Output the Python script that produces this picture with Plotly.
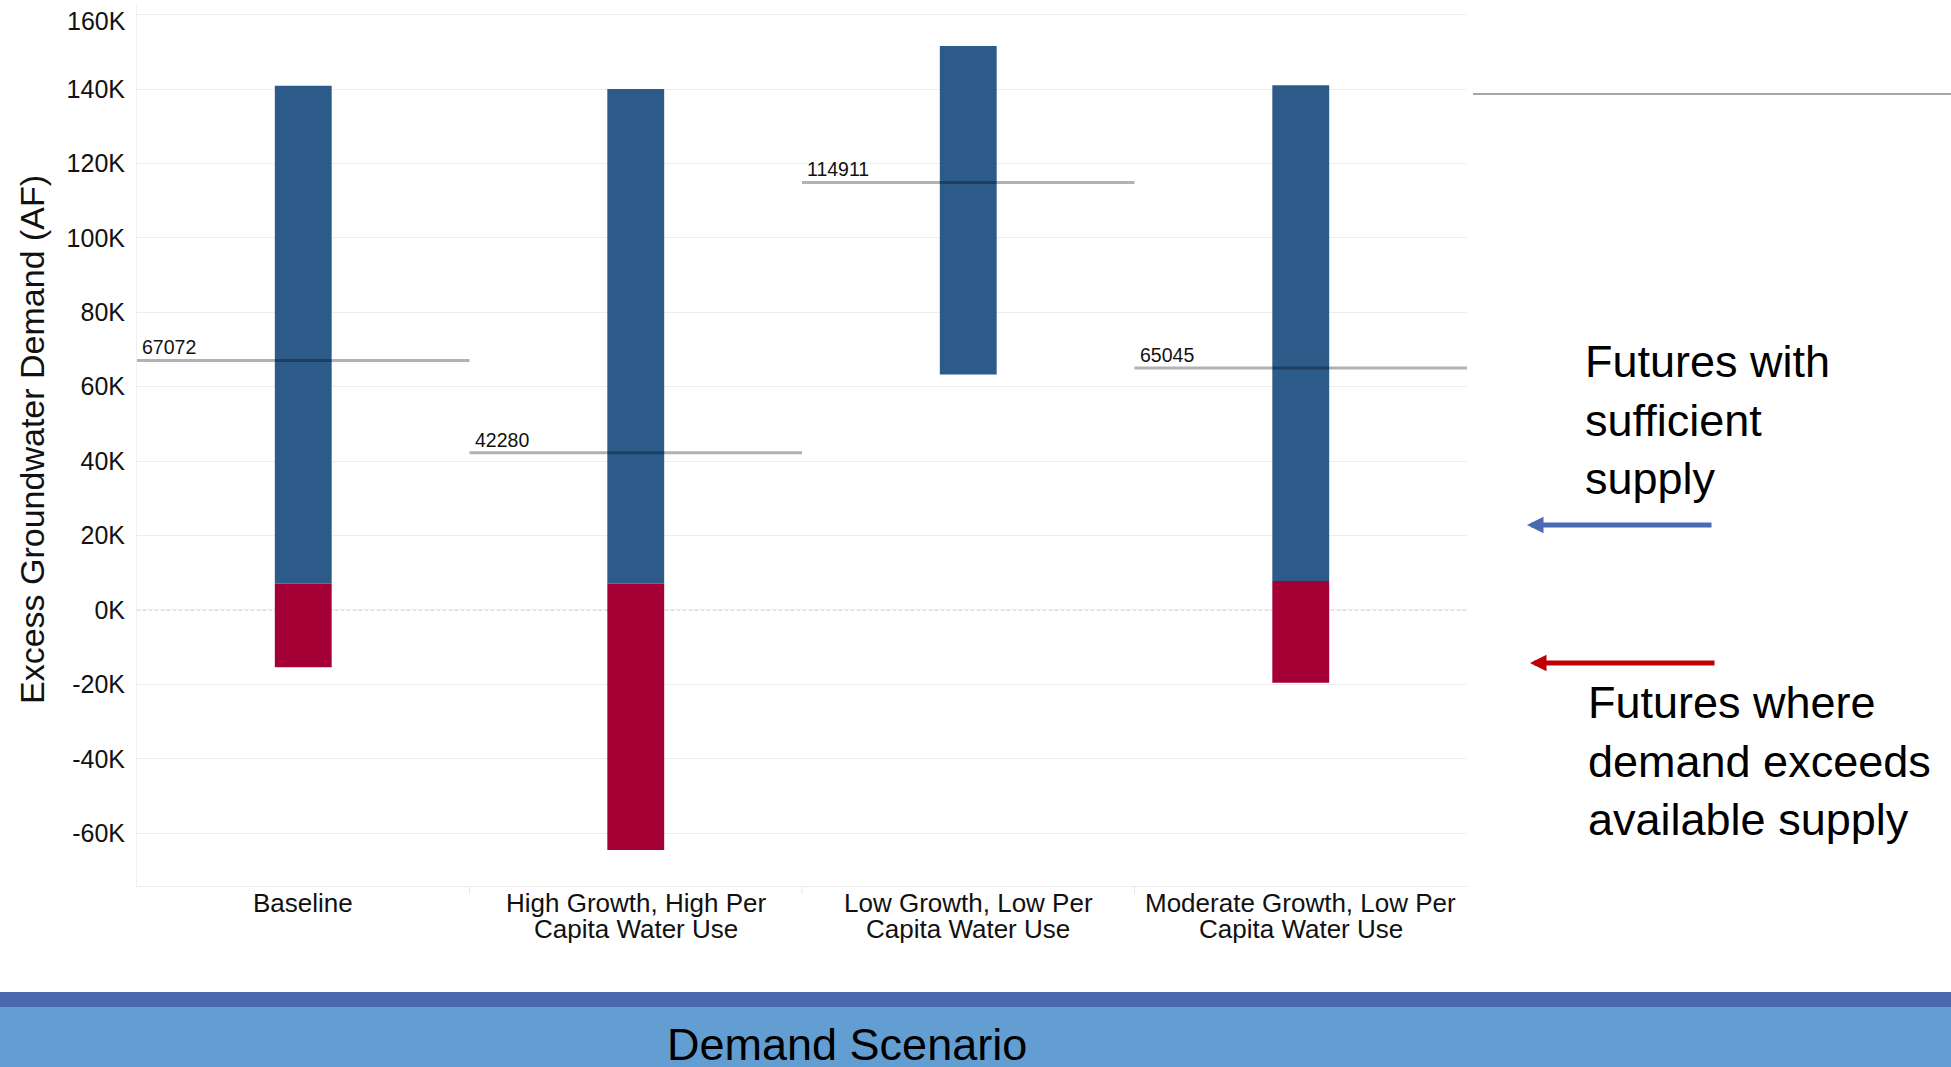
import plotly.graph_objects as go

# ---------------- data ----------------
scenarios = [
    "Baseline",
    "High Growth, High Per<br>Capita Water Use",
    "Low Growth, Low Per<br>Capita Water Use",
    "Moderate Growth, Low Per<br>Capita Water Use",
]
sufficient_low = [7100, 7100, 63300, 7800]
sufficient_high = [140900, 140000, 151600, 141000]
shortfall_low = [-15400, -64500, None, -19600]
shortfall_high = [7100, 7100, None, 7800]
reference_values = [67072, 42280, 114911, 65045]

y_tick_values = [-60000, -40000, -20000, 0, 20000, 40000, 60000, 80000,
                 100000, 120000, 140000, 160000]
y_tick_labels = ["-60K", "-40K", "-20K", "0K", "20K", "40K", "60K", "80K",
                 "100K", "120K", "140K", "160K"]

y_title = "Excess Groundwater Demand (AF)"
x_title = "Demand Scenario"
note_sufficient = "Futures with<br>sufficient<br>supply"
note_shortfall = "Futures where<br>demand exceeds<br>available supply"

# ---------------- styling ----------------
FONT = "Liberation Sans, Arial, Helvetica, sans-serif"
BLUE = "#2C5A89"
RED = "#A50036"

W, H = 1951, 1067
L, R, T, B = 137, 484, 5, 181
plot_w = W - L - R
plot_h = H - T - B


def px_x(px):
    return (px - L) / plot_w


def px_y(py):
    return (H - B - py) / plot_h


xs = list(range(len(scenarios)))

fig = go.Figure()

fig.add_trace(go.Bar(
    x=xs,
    y=[h - l for h, l in zip(sufficient_high, sufficient_low)],
    base=sufficient_low,
    width=0.171,
    marker=dict(color=BLUE, line=dict(width=0)),
    hoverinfo="skip",
))

red_len = [None if (h is None or l is None) else h - l
           for h, l in zip(shortfall_high, shortfall_low)]
fig.add_trace(go.Bar(
    x=xs,
    y=red_len,
    base=shortfall_low,
    width=0.171,
    marker=dict(color=RED, line=dict(width=0)),
    hoverinfo="skip",
))

shapes = []
annotations = []

# zero line (dotted)
shapes.append(dict(type="line", xref="paper", yref="y", x0=0, x1=1, y0=0, y1=0,
                   line=dict(color="#A8A8A8", width=1, dash="dot"), layer="below"))

# reference lines + labels
for i, v in enumerate(reference_values):
    shapes.append(dict(type="line", xref="x", yref="y", x0=i - 0.5, x1=i + 0.5,
                       y0=v, y1=v, line=dict(color="rgba(0,0,0,0.30)", width=3),
                       layer="above"))
    annotations.append(dict(x=i - 0.5, y=v, xref="x", yref="y", text=str(v),
                            showarrow=False, xanchor="left", yanchor="bottom",
                            xshift=3, yshift=0,
                            font=dict(family=FONT, size=19.5, color="#111111")))

# category labels (two lines each, tight spacing as in the original)
for i, name in enumerate(scenarios):
    parts = name.split("<br>")
    ys = [px_y(903), px_y(929)]
    for j, part in enumerate(parts):
        annotations.append(dict(x=i, y=ys[j], xref="x", yref="paper", text=part,
                                showarrow=False, xanchor="center", yanchor="middle",
                                font=dict(family=FONT, size=26, color="#111111")))

# top tick label is nudged down inside the frame (as in the original)
tick_text_axis = list(y_tick_labels)
top_label = tick_text_axis[-1]
tick_text_axis[-1] = ""
annotations.append(dict(x=px_x(128), y=px_y(21), xref="paper", yref="paper",
                        text=top_label, showarrow=False, xanchor="right",
                        yanchor="middle",
                        font=dict(family=FONT, size=25, color="#111111")))

# y-axis title
annotations.append(dict(x=px_x(32), y=px_y(440), xref="paper", yref="paper",
                        text=y_title, textangle=-90, showarrow=False,
                        xanchor="center", yanchor="middle",
                        font=dict(family=FONT, size=34, color="#111111")))

# bottom bands
shapes.append(dict(type="rect", xref="paper", yref="paper",
                   x0=px_x(-10), x1=px_x(W + 10), y0=px_y(992), y1=px_y(1007),
                   fillcolor="#4A68AF", line=dict(width=0), layer="above"))
shapes.append(dict(type="rect", xref="paper", yref="paper",
                   x0=px_x(-10), x1=px_x(W + 10), y0=px_y(1007), y1=px_y(H + 10),
                   fillcolor="#629ED1", line=dict(width=0), layer="above"))
annotations.append(dict(x=px_x(847), y=px_y(1044), xref="paper", yref="paper",
                        text=x_title, showarrow=False, xanchor="center",
                        yanchor="middle",
                        font=dict(family=FONT, size=45, color="#000000")))

# top-right grey rule
shapes.append(dict(type="line", xref="paper", yref="paper",
                   x0=px_x(1473), x1=px_x(W + 5), y0=px_y(94), y1=px_y(94),
                   line=dict(color="#A6A6A6", width=2)))

# category boundary ticks
for i in range(len(scenarios) - 1):
    shapes.append(dict(type="line", xref="x", yref="paper", x0=i + 0.5, x1=i + 0.5,
                       y0=0, y1=px_y(894), line=dict(color="#E6E6E6", width=1)))

# side notes
annotations.append(dict(x=px_x(1583), y=px_y(420), xref="paper", yref="paper",
                        text=note_sufficient, showarrow=False, xanchor="left",
                        yanchor="middle", align="left",
                        font=dict(family=FONT, size=45, color="#000000")))
annotations.append(dict(x=px_x(1586), y=px_y(761), xref="paper", yref="paper",
                        text=note_shortfall, showarrow=False, xanchor="left",
                        yanchor="middle", align="left",
                        font=dict(family=FONT, size=45, color="#000000")))

# arrows
annotations.append(dict(x=px_x(1527), y=px_y(525), xref="paper", yref="paper",
                        ax=186, ay=0, axref="pixel", ayref="pixel", text="",
                        showarrow=True, arrowhead=2, arrowsize=0.66,
                        arrowwidth=5, arrowcolor="#4A6AB3"))
annotations.append(dict(x=px_x(1530), y=px_y(663), xref="paper", yref="paper",
                        ax=186, ay=0, axref="pixel", ayref="pixel", text="",
                        showarrow=True, arrowhead=2, arrowsize=0.66,
                        arrowwidth=5, arrowcolor="#C00000"))

fig.update_layout(
    width=W, height=H,
    margin=dict(l=L, r=R, t=T, b=B, pad=0, autoexpand=False),
    paper_bgcolor="white",
    plot_bgcolor="white",
    showlegend=False,
    barmode="overlay",
    font=dict(family=FONT, color="#111111"),
    shapes=shapes,
    annotations=annotations,
    xaxis=dict(
        range=[-0.5, len(scenarios) - 0.5],
        tickvals=xs,
        ticktext=["" for _ in xs],
        showgrid=False,
        zeroline=False,
        showline=True,
        linecolor="#EBEBEB",
        linewidth=1,
        ticks="",
        automargin=False,
        fixedrange=True,
    ),
    yaxis=dict(
        range=[-74200, 162600],
        tickvals=y_tick_values,
        ticktext=tick_text_axis,
        showgrid=True,
        gridcolor="#EDEDED",
        gridwidth=1,
        zeroline=False,
        showline=True,
        linecolor="#F0F0F0",
        linewidth=1,
        ticks="",
        ticklabelstandoff=6,
        tickfont=dict(family=FONT, size=25, color="#111111"),
        automargin=False,
        fixedrange=True,
    ),
)

fig.write_html("out.html")
